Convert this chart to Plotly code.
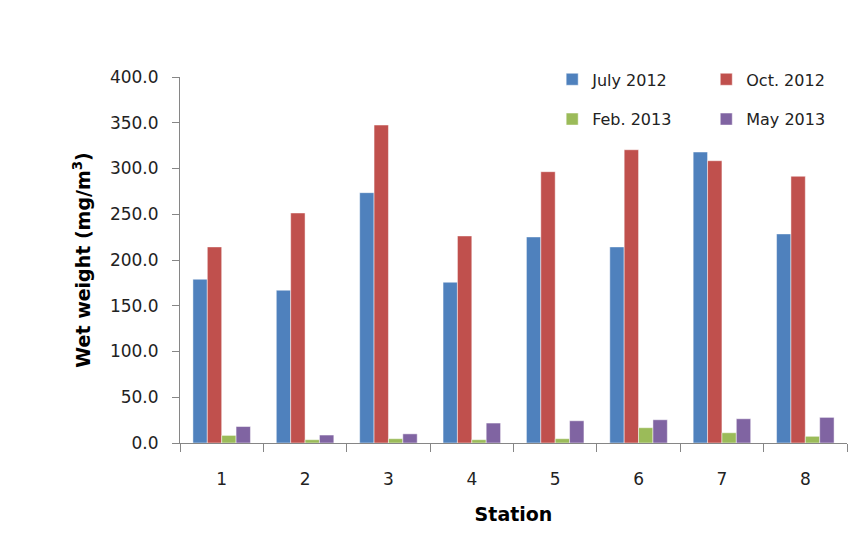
import plotly.graph_objects as go

stations = ["1", "2", "3", "4", "5", "6", "7", "8"]
july_2012 = [179, 167, 273.6, 175.7, 225.2, 214.3, 318, 228.5]
oct_2012 = [214.3, 251.4, 347.5, 226.3, 296.5, 320.5, 308.5, 291.5]
feb_2013 = [8.3, 3.6, 4.7, 3.6, 4.7, 16.7, 11.2, 7.3]
may_2013 = [18, 8.7, 10, 21.8, 24.3, 25.4, 26.5, 28]
y_ticks = [0, 50, 100, 150, 200, 250, 300, 350, 400]

FONT = "DejaVu Sans"
series = [
    ("July 2012", july_2012, "#4F81BD", "legend"),
    ("Oct. 2012", oct_2012, "#C0504D", "legend2"),
    ("Feb. 2013", feb_2013, "#9BBB59", "legend"),
    ("May 2013", may_2013, "#8064A2", "legend2"),
]

fig = go.Figure()
for i, (name, vals, color, lg) in enumerate(series):
    fig.add_trace(go.Bar(
        x=stations, y=vals, name=name, legend=lg, legendgroup=name,
        marker=dict(color=color, line=dict(color="rgba(255,255,255,0.6)", width=0.8)),
    ))

legend_common = dict(
    font=dict(family=FONT, size=16, color="#222222"),
    bgcolor="rgba(0,0,0,0)", traceorder="grouped", tracegroupgap=16,
    yanchor="top", xanchor="left", orientation="v",
    itemwidth=30,
)

fig.update_layout(
    width=868, height=542,
    margin=dict(l=180, r=21, t=77, b=99),
    plot_bgcolor="white", paper_bgcolor="white",
    barmode="group", bargap=0.31, bargroupgap=0,
    font=dict(family=FONT, size=16, color="#000000"),
    legend=dict(x=0.558, y=1.04, **legend_common),
    legend2=dict(x=0.789, y=1.04, **legend_common),
    xaxis=dict(
        title=dict(text="<b>Station</b>", font=dict(family=FONT, size=19), standoff=19),
        showline=True, linecolor="#868686", linewidth=1,
        ticks="outside", ticklen=8, tickcolor="#868686", tickson="boundaries",
        tickfont=dict(family=FONT, size=17, color="#222222"), showgrid=False,
        ticklabelstandoff=21,
    ),
    yaxis=dict(
        title=dict(text="<b>Wet weight (mg/m<sup>3</sup>)</b>", font=dict(family=FONT, size=19), standoff=14),
        range=[0, 400], tickvals=y_ticks, ticktext=[f"{v:.1f}" for v in y_ticks],
        showline=True, linecolor="#868686", linewidth=1,
        ticks="outside", ticklen=7, tickcolor="#868686",
        tickfont=dict(family=FONT, size=17, color="#222222"), showgrid=False, zeroline=False,
        ticklabelstandoff=10,
    ),
)

fig.write_html("out.html")
